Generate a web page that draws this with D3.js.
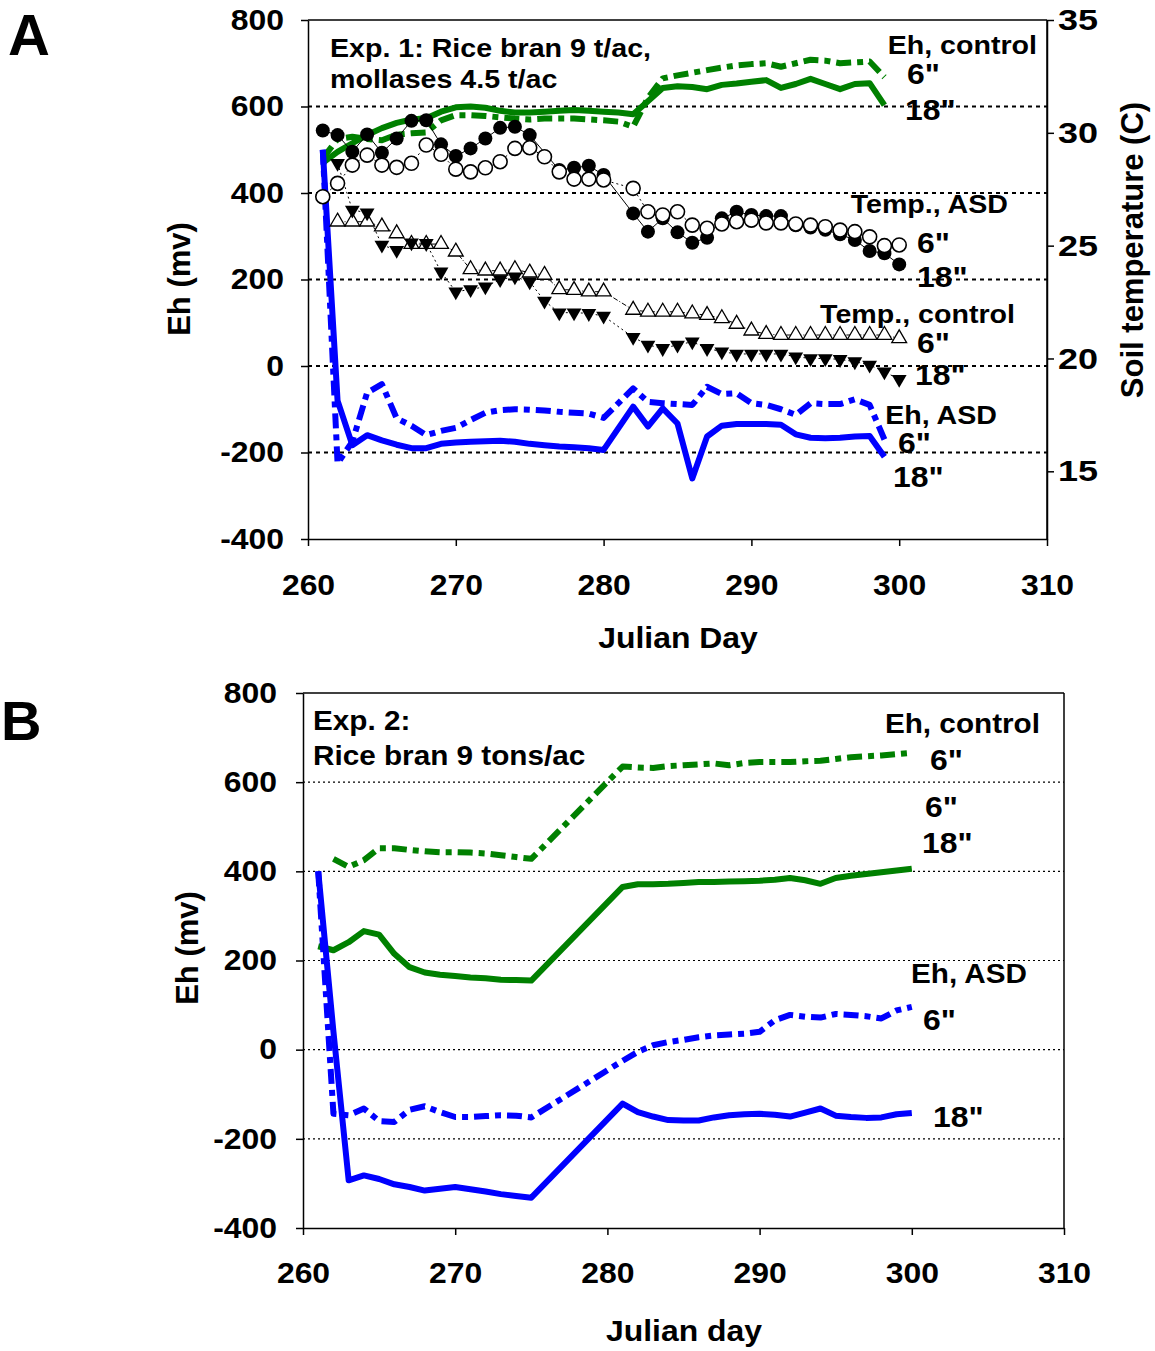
<!DOCTYPE html>
<html>
<head>
<meta charset="utf-8">
<script src="https://cdn.jsdelivr.net/npm/d3@7"></script>
<style>
  body { margin: 0; background: #fff; }
  svg text { font-family: "Liberation Sans", Arial, sans-serif; font-weight: bold; fill: #000; }
</style>
</head>
<body>
<svg id="chart" width="1155" height="1351"></svg>
<script>
// ---------- panel A : Eh (mv), days 261-299 ----------
const daysEhA = d3.range(261, 300);
const ehCtl6A  = [480,525,530,525,522,535,538,540,568,580,580,578,575,572,570,572,572,572,570,568,565,553,620,665,672,678,684,690,695,698,700,692,700,708,706,700,702,704,668];
const ehCtl18A = [470,495,515,534,550,562,570,573,588,598,600,597,590,586,586,588,590,592,590,588,586,582,612,643,647,645,640,650,653,657,661,643,652,664,652,640,652,654,603];
const ehAsd6A  = [500,-225,-175,-62,-42,-121,-138,-160,-150,-143,-125,-108,-102,-100,-101,-103,-106,-108,-110,-120,null,-52,-83,-86,null,-90,-48,-65,-63,-86,-90,-100,-113,-86,-88,-88,-77,-90,-170];
const ehAsd18A = [500,-80,-183,-160,-172,-182,-190,-190,-180,-177,-175,-174,-173,-175,-180,-183,-186,-188,-190,-194,null,-94,-140,-98,-133,-260,-163,-138,-134,-134,-134,-136,-158,-166,-167,-166,-163,-162,-210];

// ---------- panel A : soil temperature (C), days 261-300 ----------
const daysTA = d3.range(261, 301);
const tAsd6  = [27.17,27.76,28.57,29.01,28.57,28.47,28.65,29.46,29.05,28.39,28.27,28.45,28.72,29.31,29.34,28.94,28.27,27.95,27.95,27.91,null,27.54,26.5,26.36,26.5,25.91,25.77,25.96,26.06,26.13,26.01,26.01,25.96,25.91,25.84,25.69,25.62,25.39,25.0,25.03];
const tAsd18 = [30.1,29.9,29.16,29.93,29.12,29.75,30.53,30.56,29.49,28.97,29.31,29.75,30.22,30.27,29.9,null,28.35,28.45,28.54,28.13,null,26.43,25.62,26.21,25.59,25.13,25.35,26.21,26.5,26.36,26.31,26.31,25.9,25.8,25.7,25.5,25.25,24.76,24.66,24.17];
const tCtl6  = [null,26.06,26.06,26.06,25.84,25.54,25.07,25.07,25.07,24.73,23.95,23.89,23.89,23.95,23.8,23.7,23.06,23.03,22.96,22.96,null,22.15,22.07,22.07,22.07,21.99,21.92,21.78,21.53,21.23,21.08,21.04,21.04,21.04,21.04,21.04,21.04,21.04,21.04,20.89];
const tCtl18 = [null,28.65,26.58,26.46,25.03,24.8,25.13,25.1,23.84,22.96,23.06,23.18,23.5,23.62,23.4,22.55,22.03,22.03,22.0,21.88,null,20.94,20.6,20.45,20.6,20.74,20.45,20.3,20.2,20.2,20.2,20.2,20.08,20.0,20.0,19.96,19.86,19.71,19.41,19.08];

// ---------- panel B : Eh (mv) ----------
const daysB = d3.range(261, 276).concat(d3.range(281, 301));
const ehCtl6B  = [null,428,410,425,452,452,448,445,443,443,442,440,436,432,428,635,633,632,636,638,640,642,638,643,645,645,645,647,648,652,656,658,660,663,666];
const ehCtl18B = [232,223,241,266,258,215,185,173,168,165,162,160,157,156,155,365,371,371,372,374,376,376,377,378,379,381,385,380,372,385,390,394,398,402,406];
const ehAsd6B  = [400,-144,-147,-132,-160,-162,-135,-127,-140,-151,-151,-149,-147,-148,-152,-25,-5,10,17,22,28,32,34,36,40,66,78,74,72,80,78,75,70,88,96];
const ehAsd18B = [400,40,-293,-282,-290,-302,-308,-316,-312,-308,-313,-318,-324,-328,-332,-121,-140,-150,-158,-159,-159,-152,-147,-145,-144,-146,-150,-141,-132,-148,-151,-153,-152,-145,-142];

const ehTicks = [-400, -200, 0, 200, 400, 600, 800];
const gridVals = [-200, 0, 200, 400, 600];
const dayTicks = [260, 270, 280, 290, 300, 310];
const tempTicks = [15, 20, 25, 30, 35];

const SX = 1.1;          // glyphs in the source are a little wider than Arial
const GREEN = '#008000', BLUE = '#0000ff';
const DASH6 = '15,6,6,6';

const svg = d3.select('#chart');

function pairs(days, vals) {
  return days.map((d, i) => [d, vals[i]]).filter(p => p[1] != null);
}

function label(g, x, y, s, size, anchor) {
  g.append('text')
    .attr('transform', `translate(${x},${y}) scale(${SX},1)`)
    .attr('text-anchor', anchor || 'start')
    .style('font-size', size + 'px')
    .text(s);
}

function vlabel(g, x, y, s, size) {
  g.append('text')
    .attr('transform', `translate(${x},${y}) rotate(-90)`)
    .attr('text-anchor', 'middle')
    .style('font-size', size + 'px')
    .text(s);
}

// plain hyphen minus like the source, not the unicode minus d3 uses
const fmt = d => String(d);

function styleAxis(a, size, xOff, yOff, sx) {
  sx = sx || SX;
  a.select('.domain').attr('stroke', '#000').attr('stroke-width', 1.5);
  a.selectAll('.tick line').attr('stroke', '#000').attr('stroke-width', 1.5);
  let t = a.selectAll('.tick text')
    .attr('fill', '#000')
    .style('font-size', size + 'px')
    .attr('transform', `scale(${sx},1)`);
  if (xOff != null) t.attr('x', xOff / sx);
  if (yOff != null) t.attr('y', yOff).attr('dy', 0);
}

function ehPanel(cfg) {
  let x = d3.scaleLinear().domain([260, 310]).range([cfg.left, cfg.right]);
  let y = d3.scaleLinear().domain([-400, 800]).range([cfg.bottom, cfg.top]);
  let g = svg.append('g');

  g.selectAll('.grid')
    .data(gridVals)
    .enter()
      .append('line')
      .attr('x1', cfg.left).attr('x2', cfg.right)
      .attr('y1', d => y(d)).attr('y2', d => y(d))
      .attr('stroke', '#000')
      .attr('stroke-width', cfg.gridW)
      .attr('stroke-dasharray', cfg.gridDash);

  // plot frame
  g.append('line').attr('x1', cfg.left).attr('x2', cfg.right)
    .attr('y1', cfg.top).attr('y2', cfg.top).attr('stroke', '#000').attr('stroke-width', 1.5);
  g.append('line').attr('x1', cfg.right).attr('x2', cfg.right)
    .attr('y1', cfg.top).attr('y2', cfg.bottom).attr('stroke', '#000').attr('stroke-width', 1.5);

  let ax = g.append('g').attr('transform', `translate(${cfg.left},0)`)
    .call(d3.axisLeft(y).tickValues(ehTicks).tickFormat(fmt).tickSize(7).tickSizeOuter(0));
  styleAxis(ax, 29, -cfg.yLabOff, null);

  let bx = g.append('g').attr('transform', `translate(0,${cfg.bottom})`)
    .call(d3.axisBottom(x).tickValues(dayTicks).tickFormat(fmt).tickSize(7).tickSizeOuter(0));
  styleAxis(bx, 29, null, cfg.xLabOff);

  return {g, x, y};
}

function ehLine(p, data, color, dash) {
  let line = d3.line().x(d => p.x(d[0])).y(d => p.y(d[1]));
  p.g.append('path')
    .datum(data)
    .attr('d', line)
    .attr('fill', 'none')
    .attr('stroke', color)
    .attr('stroke-width', 6)
    .attr('stroke-linejoin', 'round')
    .attr('stroke-dasharray', dash || null);
}

// ================= Panel A =================
let A = ehPanel({left: 308, right: 1047, top: 20, bottom: 539, gridW: 2, gridDash: '4,4', yLabOff: 24, xLabOff: 56});
let yT = d3.scaleLinear().domain([12, 35]).range([539, 20]);

let rax = A.g.append('g').attr('transform', 'translate(1047,0)')
  .call(d3.axisRight(yT).tickValues(tempTicks).tickFormat(fmt).tickSize(7).tickSizeOuter(0));
styleAxis(rax, 30, 11, null, 1.2);

ehLine(A, pairs(daysEhA, ehCtl18A), GREEN);
ehLine(A, pairs(daysEhA, ehCtl6A), GREEN, DASH6);
ehLine(A, pairs(daysEhA, ehAsd18A), BLUE);
ehLine(A, pairs(daysEhA, ehAsd6A), BLUE, DASH6);

let tLine = d3.line().x(d => A.x(d[0])).y(d => yT(d[1]));
[[tCtl6, '5,2,1,2'], [tCtl18, '2,3'], [tAsd18, null], [tAsd6, '2,3']].forEach(s => {
  A.g.append('path')
    .datum(pairs(daysTA, s[0]))
    .attr('d', tLine)
    .attr('fill', 'none')
    .attr('stroke', '#000')
    .attr('stroke-width', 1)
    .attr('stroke-dasharray', s[1]);
});

let tri = d3.symbol().type(d3.symbolTriangle).size(95);
A.g.selectAll('.ctl6')
  .data(pairs(daysTA, tCtl6))
  .enter()
    .append('path')
    .attr('d', tri)
    .attr('transform', d => `translate(${A.x(d[0])},${yT(d[1])})`)
    .attr('fill', '#fff').attr('stroke', '#000').attr('stroke-width', 1.3);
A.g.selectAll('.ctl18')
  .data(pairs(daysTA, tCtl18))
  .enter()
    .append('path')
    .attr('d', tri)
    .attr('transform', d => `translate(${A.x(d[0])},${yT(d[1])}) rotate(180)`)
    .attr('fill', '#000');
A.g.selectAll('.asd18')
  .data(pairs(daysTA, tAsd18))
  .enter()
    .append('circle')
    .attr('cx', d => A.x(d[0])).attr('cy', d => yT(d[1])).attr('r', 7)
    .attr('fill', '#000');
A.g.selectAll('.asd6')
  .data(pairs(daysTA, tAsd6))
  .enter()
    .append('circle')
    .attr('cx', d => A.x(d[0])).attr('cy', d => yT(d[1])).attr('r', 7)
    .attr('fill', '#fff').attr('stroke', '#000').attr('stroke-width', 1.6);

label(A.g, 330, 57, 'Exp. 1: Rice bran 9 t/ac,', 26);
label(A.g, 330, 88, 'mollases 4.5 t/ac', 26);
label(A.g, 1037, 54, 'Eh, control', 26, 'end');
label(A.g, 907, 84, '6"', 29);
label(A.g, 905, 120, '18"', 29);
label(A.g, 1008, 213, 'Temp., ASD', 26, 'end');
label(A.g, 917, 253, '6"', 29);
label(A.g, 917, 287, '18"', 29);
label(A.g, 1015, 323, 'Temp., control', 26, 'end');
label(A.g, 917, 353, '6"', 29);
label(A.g, 915, 385, '18"', 29);
label(A.g, 997, 424, 'Eh, ASD', 26, 'end');
label(A.g, 898, 453, '6"', 29);
label(A.g, 893, 487, '18"', 29);

vlabel(A.g, 190, 279, 'Eh (mv)', 31);
vlabel(A.g, 1143, 250, 'Soil temperature (C)', 31);
label(A.g, 678, 648, 'Julian Day', 29, 'middle');
A.g.append('text').attr('x', 8).attr('y', 55).style('font-size', '58px').text('A');

// ================= Panel B =================
let B = ehPanel({left: 303, right: 1064, top: 693, bottom: 1228, gridW: 1.2, gridDash: '2,3', yLabOff: 26, xLabOff: 55});

ehLine(B, pairs(daysB, ehCtl18B), GREEN);
ehLine(B, pairs(daysB, ehCtl6B), GREEN, DASH6);
ehLine(B, pairs(daysB, ehAsd18B), BLUE);
ehLine(B, pairs(daysB, ehAsd6B), BLUE, DASH6);

label(B.g, 313, 730, 'Exp. 2:', 27);
label(B.g, 313, 765, 'Rice bran 9 tons/ac', 27);
label(B.g, 1040, 733, 'Eh, control', 27, 'end');
label(B.g, 930, 770, '6"', 29);
label(B.g, 925, 817, '6"', 29);
label(B.g, 922, 853, '18"', 29);
label(B.g, 1027, 983, 'Eh, ASD', 27, 'end');
label(B.g, 923, 1030, '6"', 29);
label(B.g, 933, 1127, '18"', 29);

vlabel(B.g, 198, 948, 'Eh (mv)', 31);
label(B.g, 684, 1341, 'Julian day', 29, 'middle');
B.g.append('text').attr('x', 1).attr('y', 740).style('font-size', '56px').text('B');
</script>
</body>
</html>
